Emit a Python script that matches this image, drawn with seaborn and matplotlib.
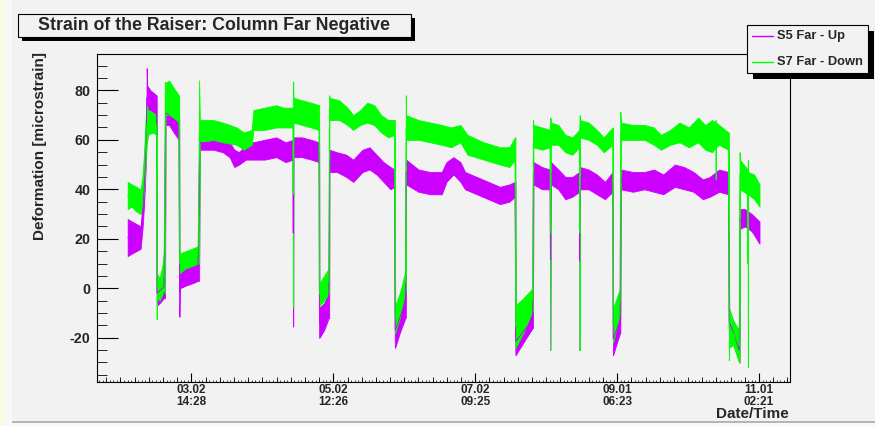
import numpy as np
import pandas as pd
import matplotlib
matplotlib.use("Agg")
import matplotlib.pyplot as plt
import matplotlib.dates as mdates
from matplotlib.patches import Rectangle
from matplotlib.lines import Line2D
import seaborn as sns

# ---------------- data ----------------
TITLE = "Strain of the Raiser: Column Far Negative"
YLABEL = "Deformation [microstrain]"
XLABEL = "Date/Time"
SERIES = ["S5 Far - Up", "S7 Far - Down"]
COLORS = ["#cc00ff", "#00ff00"]
YEAR_START = "2010-01-01"          # day numbers below count from this date
tick_times = ["2010-03-02 14:28", "2010-05-02 12:26", "2010-07-02 09:25",
              "2010-09-01 06:23", "2010-11-01 02:21"]
y_ticks = [-20, 0, 20, 40, 60, 80]

# S5 Far - Up : time (days), lower / upper edge of the noisy trace
s5_day = [33.25, 35.0, 37.0, 38.8, 39.6, 40.3, 40.9, 41.3, 41.4, 41.6, 43.0, 45.6,
          45.7, 45.8, 47.0, 48.8, 49.3, 49.5, 51.0, 53.0, 55.2, 55.35, 55.5, 55.7,
          58.0, 61.0, 63.4, 63.9, 64.2, 70.0, 74.0, 77.0, 79.0, 81.0, 84.0, 87.0,
          92.0, 97.0, 101.0, 104.1, 104.25, 104.4, 108.0, 112.0, 115.3, 115.4, 115.5,
          117.5, 119.5, 119.7, 119.8, 123.0, 127.0, 130.0, 134.0, 137.0, 140.0, 143.0,
          146.0, 147.7, 147.85, 148.0, 150.0, 152.4, 152.56, 152.7, 158.0, 163.0,
          168.0, 170.0, 173.0, 176.0, 178.0, 183.0, 188.0, 193.0, 197.0, 199.4,
          199.59, 199.7, 203.0, 207.0, 207.14, 207.3, 211.0, 214.4, 214.59, 214.8,
          218.0, 221.0, 224.0, 227.0, 227.15, 227.3, 231.0, 234.5, 238.0, 241.3,
          241.43, 241.5, 244.5, 244.6, 244.8, 250.0, 255.0, 259.0, 263.0, 268.0,
          272.0, 276.0, 280.0, 283.0, 287.0, 290.9, 291.16, 291.3, 293.0, 295.6,
          295.75, 295.9, 298.0, 301.0, 304.3]
s5_lo = [13, 14, 15, 16, 24, 34, 47, 60, 65, 72, 72, 70,
         -7, -7, -6, -4, -4, 66, 66, 63, 60, -11.5, -11.5, 0,
         1, 2, 3, 3, 56, 56, 55, 53, 49, 50, 52, 52,
         52, 53, 51, 52, -15.5, 53, 53, 52, 51, -20, -20,
         -17, -12, -12, 47, 47, 45, 43, 47, 48, 46, 43,
         40, 41, -24, -24, -18, -12, -12, 42, 39, 38,
         38, 43, 46, 43, 40, 38, 36, 34, 35, 37,
         -27, -27, -22, -16, -16, 42, 40, 40, -25, 42,
         40, 36, 37, 39, -25, 40, 40, 38, 36, 39,
         -27, -27, -18, -18, 40, 39, 40, 39, 38, 41,
         40, 39, 36, 37, 39, 38, -17, -17, -22, -30,
         -30, 24, 25, 23, 18]
s5_hi = [28, 27, 26, 25, 34, 46, 60, 72, 89, 82, 80, 78,
         78, 3, 4, 5, 76, 76, 74, 71, 68, 68, 8, 8,
         10, 12, 13, 62, 62, 61, 60, 59, 56, 55, 58, 59,
         60, 61, 59, 60, 60, 61, 61, 60, 59, 59, -8,
         -6, -2, 56, 56, 55, 54, 52, 56, 57, 54, 51,
         49, 48, 48, -10, -6, 1, 52, 52, 48, 47,
         47, 51, 53, 51, 47, 45, 43, 41, 42, 43,
         43, -16, -13, -9, 51, 51, 49, 48, 48, 51,
         48, 45, 45, 47, 47, 49, 48, 46, 43, 47,
         47, -14, -8, 48, 48, 47, 47, 48, 46, 50,
         49, 47, 44, 45, 48, 47, 47, -10, -13, -20,
         32, 32, 32, 30, 27]

# S7 Far - Down
s7_day = [33.25, 35.0, 37.0, 38.8, 39.6, 40.3, 40.9, 41.4, 42.0, 44.0, 45.6, 45.7,
          45.8, 47.0, 48.3, 48.8, 49.2, 49.5, 51.0, 53.0, 55.2, 55.35, 55.5, 58.0,
          61.0, 63.4, 63.9, 64.2, 70.0, 74.0, 80.0, 83.0, 86.5, 87.2, 92.0, 97.0,
          100.0, 104.1, 104.25, 104.4, 108.0, 112.0, 115.3, 115.4, 115.5, 117.5,
          119.5, 119.7, 119.8, 124.0, 127.5, 130.0, 133.0, 136.0, 139.0, 142.0,
          145.0, 147.7, 147.85, 148.0, 150.0, 152.4, 152.56, 152.7, 158.0, 163.0,
          168.0, 172.0, 176.0, 179.0, 186.0, 193.0, 197.0, 199.4, 199.59, 199.7,
          203.0, 207.0, 207.14, 207.3, 211.0, 214.4, 214.59, 214.8, 218.0, 221.0,
          224.0, 227.0, 227.15, 227.3, 231.0, 234.5, 237.5, 241.3, 241.43, 241.5,
          244.5, 244.6, 244.8, 250.0, 255.0, 259.0, 262.0, 266.0, 270.0, 274.0,
          278.0, 281.0, 284.0, 285.4, 285.5, 285.6, 287.0, 290.9, 291.16, 291.3,
          293.0, 295.6, 295.75, 295.9, 299.2, 299.31, 299.4, 302.0, 304.3]
s7_lo = [32, 33, 31, 30, 33, 40, 50, 58, 62, 63, 62, -12.5,
         -4, -5, -2, 0, -2, 70, 70, 69, 67, 8, 6, 8,
         9, 10, 10, 59, 60, 59, 58, 56, 58, 64, 64, 65,
         65, 65, -7.4, 67, 66, 65, 64, -7, -7, -5,
         -2, -2, 68, 68, 66, 64, 66, 67, 66, 63,
         61, 62, -18, -18, -12, -1, -1, 60, 60, 59,
         58, 57, 59, 54, 52, 50, 49, 52, -24, -24,
         -18, -9, -9, 57, 56, 57, -25, 58, 58, 55,
         54, 57, -25, 61, 60, 58, 55, 58, -22, -22,
         -10, -10, 60, 60, 60, 58, 56, 58, 59, 57,
         59, 56, 55, 57, 44, 57, 58, 56, -29, -24,
         -23, -30, -30, 40, 38, -32, 38, 36, 33]
s7_hi = [43, 42, 41, 40, 45, 55, 68, 74, 72, 71, 70, 70,
         6, 4, 10, 14, 83.5, 83, 84, 81, 78, 78, 14, 15,
         16, 17, 84, 68, 68, 67, 65, 63, 64, 72, 73, 74,
         73, 73, 83.5, 77, 76, 75, 74, 74, 2, 5,
         8, 78, 77, 76, 73, 70, 72, 75, 74, 70,
         68, 68, 68, -7, -2, 7, 78, 70, 68, 67,
         66, 65, 66, 62, 59, 57, 57, 61, 61, -7,
         -4, 0, 68, 66, 65, 64, 69, 67, 66, 62,
         61, 64, 70, 68, 67, 64, 61, 65, 65, -8,
         0, 71.4, 67, 66, 66, 65, 62, 64, 67, 65,
         69, 66, 68, 67, 68, 67, 66, 63, 63, -8,
         -13, -17, 55, 52, 48, 52, 47, 46, 42]

# ---------------- build long-form table ----------------
base = mdates.date2num(pd.Timestamp(YEAR_START))
rows = []
for name, days, lo, hi in [(SERIES[0], s5_day, s5_lo, s5_hi),
                           (SERIES[1], s7_day, s7_lo, s7_hi)]:
    for d, a, b in zip(days, lo, hi):
        rows.append((name, base + d, a))
        rows.append((name, base + d, b))
df = pd.DataFrame(rows, columns=["series", "t", "value"])

# ---------------- style ----------------
BG = "#f2f2f2"
sns.set_theme(style="white")
plt.rcParams["font.family"] = ["Liberation Sans", "DejaVu Sans"]
plt.rcParams["font.weight"] = "bold"
plt.rcParams["axes.unicode_minus"] = False

W, H = 875, 426
fig = plt.figure(figsize=(W / 100, H / 100), dpi=100, facecolor=BG)

def fx(px):
    return px / W

def fy(py):
    return 1 - py / H

ax = fig.add_axes([fx(97), fy(382), fx(790) - fx(97), fy(54) - fy(382)])
ax.set_facecolor(BG)

sns.lineplot(data=df, x="t", y="value", hue="series", hue_order=SERIES,
             palette=dict(zip(SERIES, COLORS)), estimator="mean",
             errorbar=("pi", 100), sort=True, legend=False, linewidth=0.6,
             err_kws={"alpha": 1, "linewidth": 0.6, "edgecolor": "face"}, ax=ax)

ax.set_xlabel("")
ax.set_ylabel("")
ax.set_xlim(base + 20.09, base + 317.39)
ax.set_ylim(-37.9, 94.7)

for s in ax.spines.values():
    s.set_visible(True)
    s.set_color("black")
    s.set_linewidth(0.8)

# x axis (dates)
major = mdates.date2num(pd.to_datetime(tick_times))
step = (major[-1] - major[0]) / (len(major) - 1)
x0, x1 = ax.get_xlim()
k0 = int(np.floor((x0 - major[0]) / step * 10))
k1 = int(np.ceil((x1 - major[0]) / step * 10))
minor = [major[0] + k * step / 10 for k in range(k0, k1 + 1) if x0 <= major[0] + k * step / 10 <= x1]
k0 = int(np.floor((x0 - major[0]) / step * 40))
k1 = int(np.ceil((x1 - major[0]) / step * 40))
tiny = [major[0] + k * step / 40 for k in range(k0, k1 + 1) if x0 <= major[0] + k * step / 40 <= x1]

ax.set_xticks(major)
ax.set_xticks(minor, minor=True)
ax.xaxis.set_major_formatter(mdates.DateFormatter("%m.%d\n%H:%M"))
ax.tick_params(axis="x", which="major", direction="in", length=6.5, width=0.8,
               color="black", labelsize=8.5, pad=1.2, bottom=True, top=False)
ax.tick_params(axis="x", which="minor", direction="in", length=3.5, width=0.6,
               color="black", bottom=True, top=False)
sec = ax.secondary_xaxis("bottom")
sec.set_xticks(tiny)
sec.tick_params(axis="x", direction="in", length=1.8, width=0.5, color="black",
                labelbottom=False)
sec.spines["bottom"].set_visible(False)

# y axis
ax.set_yticks(y_ticks)
ax.set_yticks(np.arange(-35, 95, 5), minor=True)
ax.tick_params(axis="y", which="major", direction="in", length=15, width=0.8,
               color="black", labelsize=10.3, pad=4.5, left=True, right=False)
ax.tick_params(axis="y", which="minor", direction="in", length=7.5, width=0.6,
               color="black", left=True, right=False)
for lab in ax.get_yticklabels():
    lab.set_fontweight("bold")

# axis titles
fig.text(fx(40), fy(52), YLABEL, rotation=90, ha="center", va="top",
         fontsize=11, fontweight="bold")
fig.text(fx(789), fy(417.5), XLABEL, ha="right", va="baseline",
         fontsize=11, fontweight="bold")

# title box with shadow
def box(x0p, y0p, x1p, y1p, off):
    fig.add_artist(Rectangle((fx(x0p + off), fy(y1p + off)), fx(x1p) - fx(x0p),
                             fy(y0p) - fy(y1p), transform=fig.transFigure,
                             facecolor="black", edgecolor="none", zorder=5))
    fig.add_artist(Rectangle((fx(x0p), fy(y1p)), fx(x1p) - fx(x0p),
                             fy(y0p) - fy(y1p), transform=fig.transFigure,
                             facecolor=BG, edgecolor="black", linewidth=0.8, zorder=6))

box(18, 14, 411, 37, 3.5)
fig.text(fx(214.5), fy(29.5), TITLE, ha="center", va="baseline",
         fontsize=12.8, fontweight="bold", zorder=7)

# legend box with shadow
box(747, 25, 868, 73, 6)
for i, (name, col) in enumerate(zip(SERIES, COLORS)):
    yy = [36, 61.7][i]
    fig.add_artist(Line2D([fx(752), fx(773)], [fy(yy), fy(yy)], transform=fig.transFigure,
                          color=col, linewidth=1.0, zorder=7))
    fig.text(fx(777), fy(yy), name, ha="left", va="center", fontsize=9.3,
             fontweight="bold", zorder=7)

# canvas edges
fig.add_artist(Rectangle((0, 0), fx(3), 1, transform=fig.transFigure,
                         facecolor="#fbfbd8", edgecolor="none", zorder=0))
fig.add_artist(Rectangle((fx(3), 0), fx(12) - fx(3), 1, transform=fig.transFigure,
                         facecolor="#f8f8f8", edgecolor="none", zorder=0))
fig.add_artist(Rectangle((fx(12), fy(423)), 1, fy(421) - fy(423), transform=fig.transFigure,
                         facecolor="#b5b5b5", edgecolor="none", zorder=0))
fig.add_artist(Rectangle((fx(3), 0), 1, fy(423), transform=fig.transFigure,
                         facecolor="#f8f8f8", edgecolor="none", zorder=0))

fig.canvas.draw()
for lab in ax.get_xticklabels():
    lab.set_linespacing(1.05)
    lab.set_fontweight("bold")

fig.savefig("out.png", dpi=100, facecolor=BG)
